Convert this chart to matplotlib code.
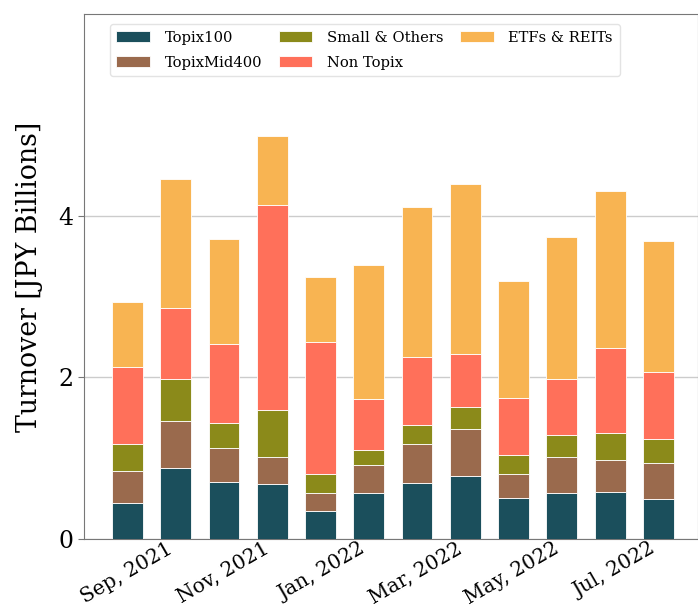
import numpy as np
from matplotlib import pyplot as plt

months = ["Aug, 2021", "Sep, 2021", "Oct, 2021", "Nov, 2021", "Dec, 2021", "Jan, 2022",
          "Feb, 2022", "Mar, 2022", "Apr, 2022", "May, 2022", "Jun, 2022", "Jul, 2022"]
topix100 = [0.44, 0.875, 0.71, 0.68, 0.35, 0.57, 0.695, 0.775, 0.51, 0.57, 0.585, 0.49]
topixmid400 = [0.405, 0.585, 0.415, 0.33, 0.22, 0.34, 0.48, 0.585, 0.30, 0.44, 0.395, 0.445]
small_others = [0.325, 0.52, 0.315, 0.59, 0.23, 0.195, 0.24, 0.27, 0.225, 0.28, 0.33, 0.305]
non_topix = [0.96, 0.885, 0.98, 2.54, 1.64, 0.625, 0.835, 0.655, 0.705, 0.69, 1.05, 0.83]
etfs_reits = [0.81, 1.595, 1.29, 0.855, 0.80, 1.66, 1.86, 2.115, 1.46, 1.755, 1.95, 1.62]

series = [
    ("Topix100", topix100, "#1b4f5c"),
    ("TopixMid400", topixmid400, "#9a6a4d"),
    ("Small & Others", small_others, "#8b8a1a"),
    ("Non Topix", non_topix, "#ff705a"),
    ("ETFs & REITs", etfs_reits, "#f8b452"),
]

plt.rcParams["font.family"] = "DejaVu Serif"

fig = plt.figure(figsize=(6.98, 6.08), dpi=100)
ax = fig.add_axes([0.1203, 0.1135, 0.8797, 0.8635])

x = np.arange(len(months))
bottom = np.zeros(len(months))
for name, vals, col in series:
    ax.bar(x, vals, 0.64, bottom=bottom, color=col, label=name,
           edgecolor="#ffffff", linewidth=0.6, zorder=3)
    bottom += np.array(vals)

ax.set_ylim(0, 6.5)
ax.set_xlim(-0.9, 11.82)
ax.set_yticks([0, 2, 4])
ax.tick_params(axis="y", labelsize=17, length=4, color="#777777")
ax.set_xticks(x[1::2])
ax.set_xticklabels(months[1::2], rotation=30, ha="right", fontsize=14.5)
ax.tick_params(axis="x", length=0, pad=0)
ax.grid(axis="y", color="#cccccc", linewidth=1, zorder=0)
ax.set_ylabel("Turnover [JPY Billions]", fontsize=19.3, labelpad=11)
for s in ["left", "bottom", "top", "right"]:
    ax.spines[s].set_color("#777777")

ax.legend(loc="upper center", ncol=3, fontsize=10.6, bbox_to_anchor=(0.457, 0.995),
          columnspacing=1.1, handlelength=2.3, borderpad=0.45, labelspacing=0.75,
          handletextpad=1.0, edgecolor="#dddddd", fancybox=True)

fig.savefig("out.png", dpi=100)
